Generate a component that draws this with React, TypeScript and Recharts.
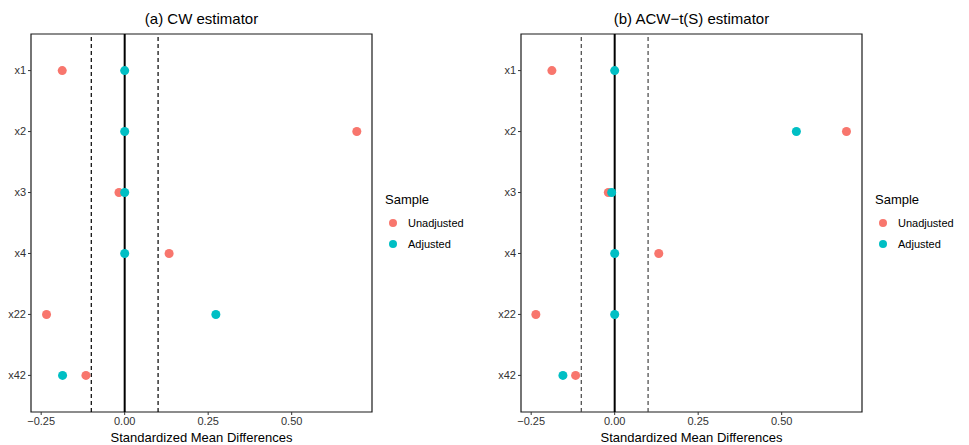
import {
  ScatterChart,
  Scatter,
  XAxis,
  YAxis,
  ZAxis,
  ReferenceLine,
  ReferenceArea,
} from "recharts";

const categories = ["x1", "x2", "x3", "x4", "x22", "x42"];
const cwUnadjusted = [-0.187, 0.695, -0.017, 0.133, -0.234, -0.116];
const cwAdjusted = [0, 0, 0, 0, 0.273, -0.186];
const acwUnadjusted = [-0.188, 0.694, -0.019, 0.132, -0.236, -0.117];
const acwAdjusted = [0, 0.544, -0.009, 0, 0, -0.155];
const xTicks = [-0.25, 0, 0.25, 0.5];
const thresholds = [-0.1, 0.1];
const samples = ["Unadjusted", "Adjusted"];

const X_DOMAIN: [number, number] = [-0.2805, 0.7405];
const Y_DOMAIN: [number, number] = [0.4, 6.6];
const FONT = "'Liberation Sans', Arial, Helvetica, sans-serif";
const COLORS: Record<string, string> = { Unadjusted: "#F8766D", Adjusted: "#00BFC4" };

const toRows = (values: number[]) =>
  categories.map((c, i) => ({ pos: i + 1, smd: values[i], label: c }));

const fmt = (v: number) => (v < 0 ? "\u2212" + Math.abs(v).toFixed(2) : v.toFixed(2));

// ggplot-style legend to the right of the panel
const SampleLegend = ({ left }: { left: number }) => (
  <div style={{ position: "absolute", left, top: 192, fontFamily: FONT, color: "#000" }}>
    <div style={{ fontSize: 13, marginBottom: 5 }}>Sample</div>
    {samples.map((name) => (
      <div key={name} style={{ display: "flex", alignItems: "center", height: 21 }}>
        <span
          style={{
            width: 8,
            height: 8,
            borderRadius: 4,
            background: COLORS[name],
            marginLeft: 4,
            marginRight: 11,
          }}
        />
        <span style={{ fontSize: 11 }}>{name}</span>
      </div>
    ))}
  </div>
);

interface PanelProps {
  title: string;
  unadjusted: number[];
  adjusted: number[];
  width: number;
  left: number;
  dashColor: string;
}

const Panel = ({ title, unadjusted, adjusted, width, left, dashColor }: PanelProps) => {
  const plotRight = 341 + 31;
  return (
    <div style={{ position: "absolute", left, top: 0, width, height: 445 }}>
      <div
        style={{
          position: "absolute",
          left: 31,
          width: 341,
          top: 10,
          textAlign: "center",
          fontFamily: FONT,
          fontSize: 15,
          color: "#000",
        }}
      >
        {title}
      </div>
      <ScatterChart
        width={width}
        height={445}
        margin={{ top: 34, right: width - plotRight, bottom: 0, left: 0 }}
      >
        <XAxis
          type="number"
          dataKey="smd"
          domain={X_DOMAIN}
          ticks={xTicks}
          tickFormatter={fmt}
          allowDataOverflow
          height={33}
          axisLine={false}
          tickSize={3}
          tickLine={{ stroke: "#333" }}
          tick={{ fontSize: 11, fill: "#333", fontFamily: FONT }}
          label={{
            value: "Standardized Mean Differences",
            position: "insideBottom",
            offset: 3,
            style: { fontSize: 13, fill: "#000", fontFamily: FONT },
          }}
        />
        <YAxis
          type="number"
          dataKey="pos"
          domain={Y_DOMAIN}
          ticks={categories.map((_, i) => i + 1)}
          tickFormatter={(v: number) => categories[v - 1]}
          reversed
          allowDataOverflow
          width={31}
          axisLine={false}
          tickSize={3}
          tickLine={{ stroke: "#333" }}
          tick={{ fontSize: 11, fill: "#333", fontFamily: FONT }}
        />
        <ZAxis range={[52, 52]} />
        {thresholds.map((t) => (
          <ReferenceLine key={t} x={t} stroke={dashColor} strokeDasharray="4 3" strokeWidth={1.2} />
        ))}
        <ReferenceLine x={0} stroke="#000" strokeWidth={2} />
        <Scatter
          name="Unadjusted"
          data={toRows(unadjusted)}
          fill={COLORS.Unadjusted}
          isAnimationActive={false}
        />
        <Scatter
          name="Adjusted"
          data={toRows(adjusted)}
          fill={COLORS.Adjusted}
          isAnimationActive={false}
        />
        <ReferenceArea
          x1={X_DOMAIN[0]}
          x2={X_DOMAIN[1]}
          y1={Y_DOMAIN[0]}
          y2={Y_DOMAIN[1]}
          fill="none"
          stroke="#1a1a1a"
          strokeWidth={1.2}
          ifOverflow="visible"
        />
      </ScatterChart>
      <SampleLegend left={plotRight + 13} />
    </div>
  );
};

export default function App() {
  return (
    <div style={{ position: "relative", width: 969, height: 445, background: "#fff" }}>
      <style>{`body{margin:0}`}</style>
      <Panel
        title="(a) CW estimator"
        unadjusted={cwUnadjusted}
        adjusted={cwAdjusted}
        width={490}
        left={0}
        dashColor="#000"
      />
      <Panel
        title={"(b) ACW\u2212t(S) estimator"}
        unadjusted={acwUnadjusted}
        adjusted={acwAdjusted}
        width={479}
        left={490}
        dashColor="#444"
      />
    </div>
  );
}
